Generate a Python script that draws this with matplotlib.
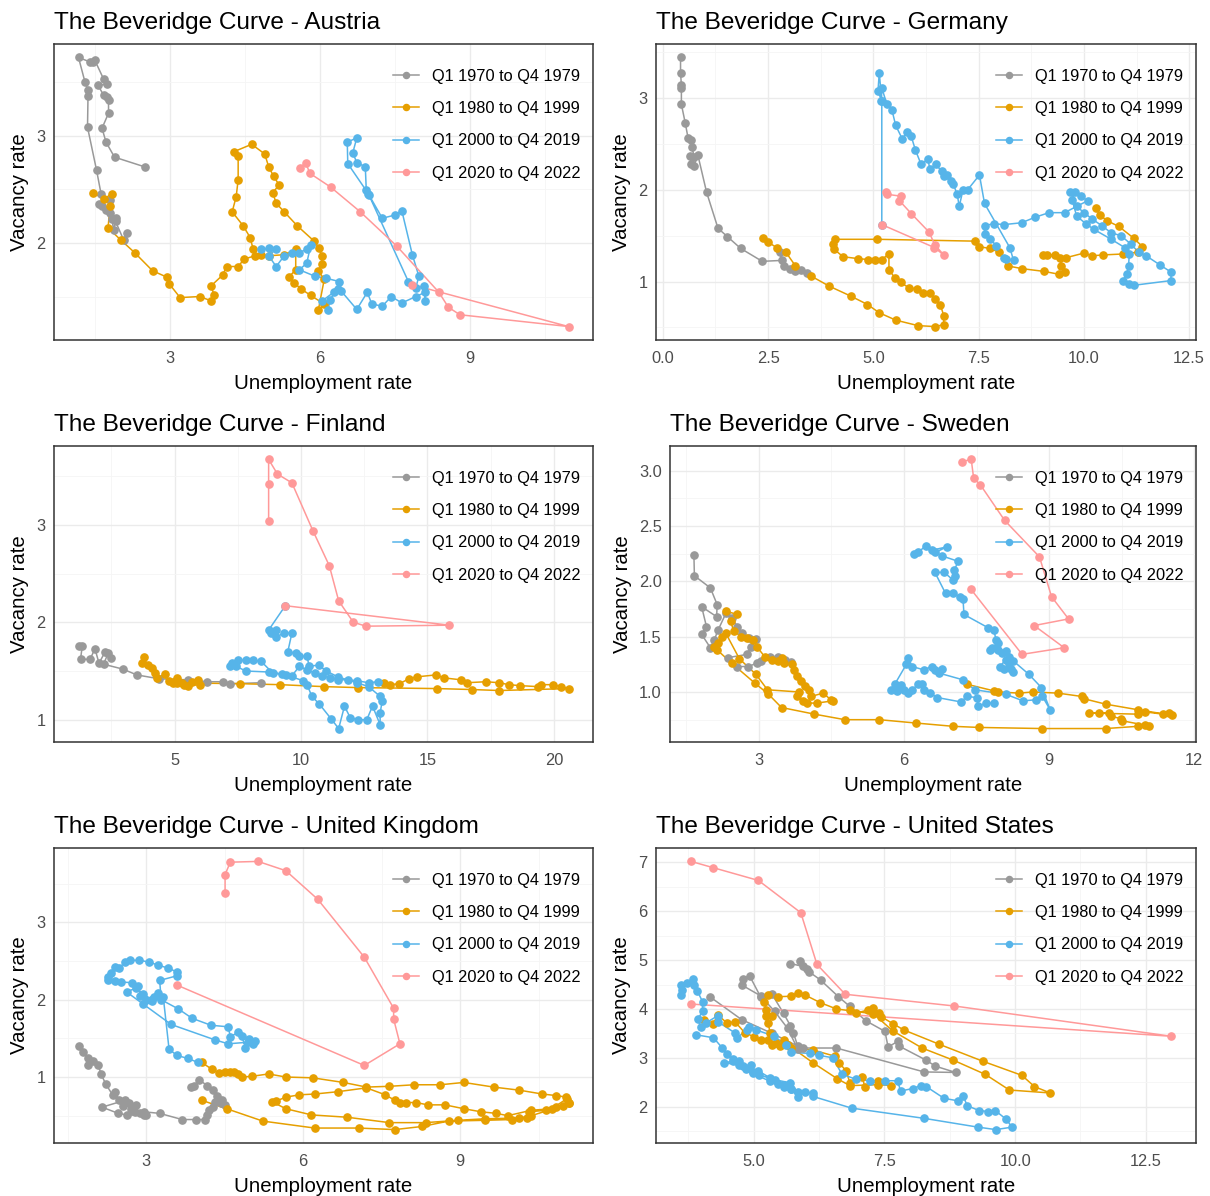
import matplotlib
matplotlib.use("Agg")
import matplotlib.pyplot as plt
from matplotlib.ticker import MultipleLocator, FormatStrFormatter

plt.rcParams.update({
    "font.family": ["Liberation Sans", "DejaVu Sans"],
    "figure.facecolor": "white",
    "axes.facecolor": "white",
})

# (unemployment rate, vacancy rate) per quarter
AT_7079 = [(2.15, 2.09), (2.08, 2.03), (1.92, 2.20), (1.88, 2.12), (1.85, 2.22), (1.81, 2.28), (1.92, 2.23),
           (1.73, 2.31), (1.65, 2.34), (1.58, 2.36), (1.81, 2.40), (1.63, 2.46), (1.54, 2.68), (1.36, 3.08),
           (1.37, 3.37), (1.37, 3.43), (1.31, 3.50), (1.18, 3.73), (1.40, 3.69), (1.46, 3.69), (1.50, 3.71),
           (1.68, 3.53), (1.74, 3.48), (1.57, 3.47), (1.68, 3.38), (1.74, 3.36), (1.78, 3.33), (1.78, 3.21),
           (1.65, 3.07), (1.73, 2.94), (1.90, 2.80), (2.50, 2.71)]
AT_8099 = [(1.46, 2.47), (1.69, 2.41), (1.85, 2.46), (1.81, 2.34), (1.77, 2.14), (2.02, 2.03), (2.30, 1.91),
           (2.66, 1.74), (2.95, 1.68), (2.99, 1.62), (3.21, 1.49), (3.60, 1.50), (3.83, 1.46), (3.89, 1.51),
           (3.83, 1.60), (4.06, 1.70), (4.14, 1.78), (4.37, 1.78), (4.49, 1.85), (4.71, 1.88), (4.67, 1.94),
           (4.61, 2.05), (4.47, 2.16), (4.25, 2.29), (4.33, 2.43), (4.37, 2.59), (4.37, 2.81), (4.28, 2.85),
           (4.64, 2.92), (4.90, 2.83), (4.98, 2.71), (5.08, 2.62), (5.19, 2.54), (5.06, 2.47), (5.13, 2.37),
           (5.29, 2.29), (5.55, 2.16), (5.88, 2.02), (5.99, 1.95), (6.04, 1.88), (6.04, 1.80), (5.97, 1.74),
           (6.09, 1.66), (5.97, 1.37), (6.09, 1.43), (5.82, 1.51), (5.63, 1.57), (5.48, 1.63), (5.38, 1.68),
           (5.52, 1.75), (5.52, 1.94), (5.29, 1.89), (4.98, 1.88), (4.83, 1.89)]
AT_0019 = [(4.83, 1.94), (4.98, 1.95), (5.12, 1.94), (4.98, 1.88), (5.13, 1.78), (5.29, 1.88), (5.44, 1.91),
           (5.59, 1.91), (5.74, 1.94), (5.82, 1.98), (5.74, 1.81), (5.59, 1.75), (5.90, 1.69), (6.13, 1.67),
           (6.39, 1.64), (6.36, 1.57), (6.20, 1.47), (6.17, 1.37), (6.05, 1.46), (6.28, 1.54), (6.43, 1.55),
           (6.74, 1.38), (6.95, 1.54), (7.04, 1.43), (7.25, 1.41), (7.43, 1.50), (7.64, 1.44), (7.92, 1.50),
           (8.11, 1.54), (8.11, 1.46), (8.08, 1.60), (7.92, 1.58), (7.98, 1.69), (7.85, 1.89), (7.64, 2.30),
           (7.50, 2.26), (7.25, 2.23), (6.98, 2.45), (6.93, 2.49), (6.91, 2.71), (6.74, 2.75), (6.66, 2.84),
           (6.74, 2.98), (6.55, 2.94), (6.56, 2.74), (6.97, 2.46), (7.77, 1.64)]
AT_2022 = [(7.85, 1.61), (10.97, 1.22), (8.80, 1.33), (8.57, 1.40), (8.38, 1.54), (7.54, 1.97), (6.81, 2.29),
           (6.22, 2.52), (5.80, 2.65), (5.72, 2.75), (5.61, 2.70)]

DE_7079 = [(0.42, 3.44), (0.42, 3.27), (0.44, 3.14), (0.44, 3.11), (0.44, 2.93), (0.53, 2.73), (0.60, 2.56),
           (0.67, 2.54), (0.69, 2.47), (0.74, 2.36), (0.65, 2.37), (0.67, 2.28), (0.74, 2.26), (0.83, 2.38),
           (1.04, 1.97), (1.31, 1.58), (1.53, 1.49), (1.85, 1.36), (2.36, 1.22), (2.82, 1.23), (2.78, 1.32),
           (2.87, 1.17), (3.01, 1.14), (3.15, 1.12), (3.29, 1.13), (3.43, 1.09)]
DE_8099 = [(2.39, 1.47), (2.50, 1.43), (2.70, 1.37), (2.92, 1.32), (3.15, 1.17), (3.52, 1.06), (3.95, 0.95),
           (4.47, 0.84), (4.86, 0.75), (5.14, 0.66), (5.53, 0.58), (6.06, 0.52), (6.46, 0.51), (6.67, 0.53),
           (6.67, 0.63), (6.59, 0.75), (6.46, 0.81), (6.34, 0.87), (6.19, 0.88), (6.04, 0.92), (5.85, 0.93),
           (5.65, 0.99), (5.51, 1.04), (5.37, 1.13), (5.37, 1.30), (5.20, 1.24), (5.03, 1.24), (4.87, 1.24),
           (4.63, 1.25), (4.28, 1.27), (4.07, 1.35), (4.03, 1.41), (4.10, 1.46), (5.09, 1.46), (7.41, 1.44),
           (7.50, 1.38), (7.78, 1.36), (7.98, 1.32), (8.19, 1.17), (8.54, 1.14), (9.06, 1.11), (9.40, 1.08),
           (9.56, 1.10), (9.46, 1.17), (9.44, 1.26), (9.31, 1.29), (9.12, 1.29), (9.03, 1.29), (9.58, 1.26),
           (10.00, 1.31), (10.19, 1.28), (10.46, 1.29), (10.93, 1.30), (11.28, 1.32), (11.39, 1.38),
           (11.19, 1.47), (10.83, 1.60), (10.56, 1.66), (10.39, 1.72), (10.28, 1.80)]
DE_0019 = [(9.68, 1.97), (9.83, 1.82), (10.00, 1.75), (10.20, 1.68), (10.42, 1.61), (10.65, 1.53), (10.88, 1.50),
           (11.11, 1.41), (11.30, 1.32), (11.48, 1.28), (11.81, 1.18), (12.08, 1.10), (12.06, 1.01), (11.20, 0.96),
           (11.06, 0.97), (10.93, 1.01), (11.02, 1.08), (11.06, 1.17), (11.08, 1.30), (10.97, 1.37), (10.65, 1.46),
           (10.23, 1.57), (10.05, 1.63), (9.83, 1.71), (9.72, 1.89), (9.80, 1.97), (9.93, 1.93), (10.09, 1.88),
           (9.54, 1.75), (9.17, 1.75), (8.84, 1.70), (8.52, 1.64), (8.10, 1.62), (7.87, 1.63), (7.64, 1.61),
           (7.64, 1.52), (7.78, 1.46), (7.92, 1.39), (8.10, 1.26), (8.15, 1.25), (8.33, 1.23), (8.24, 1.37),
           (7.64, 1.85), (7.52, 2.16), (7.24, 2.00), (7.13, 2.00), (7.04, 1.82), (6.99, 1.95), (6.90, 2.06),
           (6.85, 2.09), (6.76, 2.16), (6.67, 2.15), (6.62, 2.20), (6.48, 2.28), (6.34, 2.22), (6.30, 2.33),
           (6.13, 2.28), (6.00, 2.43), (5.90, 2.58), (5.79, 2.63), (5.69, 2.55), (5.53, 2.70), (5.44, 2.87),
           (5.32, 2.93), (5.20, 3.11), (5.19, 2.97), (5.11, 3.08), (5.14, 3.27), (5.20, 2.97), (5.20, 1.62)]
DE_2022 = [(5.20, 1.62), (6.45, 1.37), (6.67, 1.29), (6.46, 1.40), (6.32, 1.54), (5.90, 1.74), (5.62, 1.88),
           (5.65, 1.93), (5.32, 1.95), (5.31, 1.97)]

FI_7079 = [(1.20, 1.76), (1.35, 1.76), (1.28, 1.62), (1.66, 1.62), (1.85, 1.73), (2.01, 1.58), (2.26, 1.70),
           (2.49, 1.63), (2.37, 1.68), (2.19, 1.57), (2.95, 1.52), (3.51, 1.46), (4.39, 1.42), (5.53, 1.41),
           (6.29, 1.39), (6.90, 1.39), (7.20, 1.37), (8.42, 1.38)]
FI_8099 = [(3.71, 1.58), (3.78, 1.64), (3.94, 1.56), (4.09, 1.53), (4.24, 1.48), (4.32, 1.43), (4.62, 1.47),
           (4.77, 1.40), (5.08, 1.43), (5.30, 1.38), (5.53, 1.35), (5.99, 1.36), (5.91, 1.41), (5.68, 1.39),
           (5.38, 1.36), (5.08, 1.38), (4.92, 1.38), (7.58, 1.37), (9.18, 1.36), (10.90, 1.34), (12.25, 1.33),
           (15.38, 1.32), (16.78, 1.31), (17.84, 1.30), (20.58, 1.32), (20.27, 1.34), (19.97, 1.36),
           (19.51, 1.36), (19.36, 1.34), (18.68, 1.35), (18.22, 1.36), (17.84, 1.38), (17.31, 1.39),
           (16.55, 1.38), (16.32, 1.41), (15.64, 1.43), (15.33, 1.46), (14.57, 1.44), (14.27, 1.42),
           (13.89, 1.37), (13.51, 1.36), (13.28, 1.38)]
FI_0019 = [(13.05, 1.39), (12.67, 1.38), (12.22, 1.40), (11.84, 1.41), (11.46, 1.41), (11.16, 1.43), (10.85, 1.45),
           (10.55, 1.48), (10.24, 1.51), (9.94, 1.55), (9.64, 1.45), (9.26, 1.47), (8.88, 1.48), (8.42, 1.60),
           (8.12, 1.61), (7.81, 1.61), (7.51, 1.61), (7.28, 1.58), (7.20, 1.55), (7.43, 1.55), (7.81, 1.50),
           (8.72, 1.49), (9.41, 1.46), (10.09, 1.40), (10.24, 1.36), (10.43, 1.24), (10.73, 1.16), (11.19, 1.01),
           (11.49, 0.91), (11.72, 1.14), (11.95, 1.02), (12.25, 1.00), (12.60, 1.00), (12.83, 1.14), (13.13, 0.95),
           (13.13, 1.07), (13.21, 1.19), (13.13, 1.24), (12.67, 1.34), (12.22, 1.38), (11.46, 1.44), (11.00, 1.50),
           (10.70, 1.56), (10.32, 1.55), (10.24, 1.65), (9.94, 1.65), (9.79, 1.68), (9.48, 1.70), (9.64, 1.89),
           (9.33, 1.89), (9.03, 1.85), (8.80, 1.89), (9.03, 1.92), (8.72, 1.92), (9.38, 2.17)]
FI_2022 = [(9.38, 2.17), (15.87, 1.97), (12.57, 1.96), (12.07, 2.00), (11.49, 2.22), (11.12, 2.58), (10.47, 2.94),
           (9.64, 3.43), (9.07, 3.52), (8.72, 3.67), (8.72, 3.42), (8.72, 3.04)]

SE_7079 = [(1.66, 2.24), (1.67, 2.05), (2.00, 1.94), (2.14, 1.79), (2.13, 1.68), (1.82, 1.77), (1.92, 1.59),
           (1.82, 1.52), (2.00, 1.40), (2.08, 1.47), (2.16, 1.56), (2.32, 1.71), (2.44, 1.67), (2.56, 1.59),
           (2.65, 1.53), (2.80, 1.49), (2.94, 1.48), (2.84, 1.41), (2.76, 1.34), (2.36, 1.31), (2.56, 1.23),
           (2.78, 1.23), (2.96, 1.26), (3.04, 1.28), (3.24, 1.32), (3.40, 1.32), (3.54, 1.29), (3.67, 1.27)]
SE_8099 = [(2.32, 1.73), (2.56, 1.70), (2.42, 1.64), (2.48, 1.55), (2.64, 1.50), (2.76, 1.49), (2.88, 1.47),
           (2.96, 1.41), (3.12, 1.32), (3.28, 1.29), (3.40, 1.28), (3.48, 1.31), (3.52, 1.26), (3.68, 1.25),
           (3.72, 1.20), (3.80, 1.14), (3.88, 1.10), (3.96, 1.05), (4.04, 1.02), (4.08, 0.96), (4.33, 0.99),
           (4.49, 0.93), (4.53, 0.92), (4.20, 0.90), (4.00, 0.90), (3.92, 0.92), (3.80, 0.96), (3.84, 1.00),
           (3.18, 1.02), (2.94, 1.16), (2.60, 1.30), (2.32, 1.53), (2.24, 1.50), (2.16, 1.44), (2.08, 1.41),
           (2.14, 1.38), (2.44, 1.26), (2.92, 1.08), (3.20, 0.98), (3.47, 0.86), (4.15, 0.80), (4.78, 0.75),
           (5.49, 0.75), (6.24, 0.72), (7.02, 0.69), (7.55, 0.68), (8.85, 0.67), (10.17, 0.67), (10.83, 0.69),
           (11.07, 0.69), (10.99, 0.70), (10.51, 0.74), (10.49, 0.76), (10.27, 0.78), (10.23, 0.81),
           (10.03, 0.81), (9.83, 0.81), (10.83, 0.80), (10.99, 0.82), (11.35, 0.80), (11.47, 0.81),
           (11.54, 0.79), (10.83, 0.84), (10.17, 0.89), (9.71, 0.94), (9.67, 0.96), (9.18, 0.99), (8.66, 1.00),
           (8.38, 0.99), (7.94, 1.00), (7.86, 1.01), (7.30, 1.07)]
SE_0019 = [(7.86, 0.90), (7.70, 0.90), (7.54, 0.87), (7.50, 0.95), (7.30, 0.96), (7.18, 0.91), (6.69, 0.95),
           (6.53, 0.99), (6.41, 1.02), (6.37, 1.07), (6.29, 1.07), (6.17, 1.02), (6.09, 0.99), (6.01, 1.02),
           (5.93, 1.06), (5.85, 1.01), (5.73, 1.02), (5.81, 1.07), (6.05, 1.25), (6.09, 1.31), (6.17, 1.23),
           (6.41, 1.20), (6.57, 1.23), (6.65, 1.20), (6.78, 1.21), (6.73, 1.17), (7.22, 1.11), (7.46, 1.02),
           (8.10, 0.98), (8.46, 0.92), (8.73, 0.93), (8.86, 0.96), (9.02, 0.84), (8.84, 1.04), (8.58, 1.16),
           (8.26, 1.28), (8.18, 1.26), (8.25, 1.18), (8.22, 1.21), (8.06, 1.21), (7.98, 1.23), (8.10, 1.29),
           (8.18, 1.32), (8.10, 1.37), (8.02, 1.35), (7.94, 1.38), (7.78, 1.38), (7.82, 1.40), (7.94, 1.44),
           (7.90, 1.47), (7.86, 1.56), (7.74, 1.58), (7.24, 1.70), (7.22, 1.84), (7.15, 1.86), (7.02, 1.89),
           (6.86, 1.89), (6.64, 2.08), (6.83, 2.08), (7.02, 2.01), (7.06, 2.05), (7.04, 2.10), (7.12, 2.18),
           (6.78, 2.23), (6.65, 2.26), (6.88, 2.31), (6.57, 2.28), (6.45, 2.32), (6.29, 2.26), (6.21, 2.25)]
SE_2022 = [(7.38, 1.93), (8.44, 1.34), (9.31, 1.40), (8.69, 1.60), (9.40, 1.66), (9.05, 1.86), (8.80, 2.22),
           (8.08, 2.55), (7.58, 2.87), (7.44, 2.93), (7.39, 3.10), (7.19, 3.08)]

UK_7079 = [(1.71, 1.40), (1.79, 1.33), (1.89, 1.25), (1.89, 1.15), (1.98, 1.21), (2.09, 1.15), (2.14, 1.04),
           (2.23, 0.91), (2.36, 0.77), (2.41, 0.81), (2.49, 0.70), (2.56, 0.63), (2.67, 0.66), (2.74, 0.56),
           (2.80, 0.64), (2.71, 0.59), (2.60, 0.70), (2.16, 0.61), (2.47, 0.53), (2.63, 0.51), (2.78, 0.55),
           (2.89, 0.53), (2.96, 0.51), (3.00, 0.51), (2.96, 0.55), (3.26, 0.53), (3.69, 0.45), (3.95, 0.45),
           (4.13, 0.45), (4.17, 0.51), (4.21, 0.57), (4.28, 0.61), (4.32, 0.68), (4.43, 0.66), (4.50, 0.64),
           (4.46, 0.70), (4.35, 0.76), (4.28, 0.83), (4.17, 0.89), (4.02, 0.96), (3.91, 0.89), (3.86, 0.87)]
UK_8099 = [(4.06, 0.70), (4.54, 0.59), (5.23, 0.43), (6.22, 0.34), (7.06, 0.34), (7.75, 0.32), (8.27, 0.36),
           (8.78, 0.43), (9.47, 0.44), (9.99, 0.45), (10.28, 0.47), (10.32, 0.55), (10.64, 0.57), (10.83, 0.61),
           (11.07, 0.66), (11.04, 0.72), (10.75, 0.59), (10.36, 0.57), (9.91, 0.50), (9.69, 0.53), (9.40, 0.55),
           (9.07, 0.59), (8.71, 0.64), (8.38, 0.64), (8.16, 0.67), (7.97, 0.67), (7.86, 0.67), (7.75, 0.70),
           (7.57, 0.77), (7.21, 0.86), (6.66, 0.81), (6.22, 0.78), (5.93, 0.77), (5.67, 0.74), (5.49, 0.69),
           (5.41, 0.68), (5.67, 0.59), (6.16, 0.51), (6.84, 0.48), (7.65, 0.41), (8.34, 0.41), (8.96, 0.44),
           (9.47, 0.46), (10.13, 0.47), (10.36, 0.50), (10.97, 0.63), (11.07, 0.66), (11.03, 0.74),
           (10.84, 0.76), (10.57, 0.78), (10.13, 0.83), (9.64, 0.87), (9.07, 0.93), (8.62, 0.90), (8.12, 0.90),
           (7.65, 0.88), (7.21, 0.87), (6.77, 0.93), (6.18, 0.99), (5.67, 1.00), (5.34, 1.04), (5.03, 1.01),
           (4.84, 1.00), (4.76, 1.04), (4.68, 1.06), (4.61, 1.07), (4.50, 1.06), (4.40, 1.05), (4.26, 1.10),
           (4.06, 1.19)]
UK_0019 = [(3.99, 1.19), (3.80, 1.24), (3.59, 1.28), (3.44, 1.36), (3.33, 2.03), (3.22, 2.09), (3.15, 2.04),
           (3.11, 1.98), (2.94, 1.95), (3.00, 2.00), (2.89, 2.05), (2.85, 2.18), (2.74, 2.22), (2.52, 2.23),
           (2.41, 2.24), (2.27, 2.25), (2.28, 2.30), (2.34, 2.35), (2.41, 2.43), (2.49, 2.41), (2.60, 2.49),
           (2.69, 2.51), (2.87, 2.51), (3.05, 2.49), (3.22, 2.45), (3.42, 2.41), (3.59, 2.36), (3.59, 2.31),
           (3.26, 2.25), (3.29, 2.00), (3.62, 1.88), (3.88, 1.76), (4.24, 1.67), (4.57, 1.65), (4.61, 1.52),
           (4.76, 1.58), (4.83, 1.53), (4.90, 1.38), (4.97, 1.49), (5.05, 1.43), (5.08, 1.46), (4.94, 1.45),
           (4.57, 1.43), (4.32, 1.48), (3.48, 1.68), (2.63, 2.10), (2.80, 2.15), (2.95, 2.08), (3.10, 2.00)]
UK_2022 = [(3.59, 2.19), (7.17, 1.15), (7.85, 1.43), (7.73, 1.75), (7.73, 1.89), (7.17, 2.55), (6.28, 3.30),
           (5.67, 3.67), (5.14, 3.79), (4.61, 3.78), (4.51, 3.62), (4.51, 3.38)]

US_7079 = [(4.16, 4.25), (4.77, 3.78), (5.35, 3.50), (5.84, 3.24), (5.76, 3.51), (5.70, 3.66), (5.57, 3.91),
           (5.35, 4.30), (5.13, 4.25), (4.92, 4.68), (4.79, 4.61), (4.77, 4.49), (5.13, 4.27), (5.40, 3.95),
           (5.65, 3.60), (5.84, 3.18), (5.95, 3.20), (6.58, 3.20), (8.26, 2.71), (8.86, 2.70), (8.47, 2.83),
           (8.30, 2.95), (7.78, 3.24), (7.76, 3.34), (7.57, 3.22), (7.51, 3.54), (7.14, 3.76), (6.84, 4.05),
           (6.62, 4.25), (6.28, 4.59), (6.06, 4.76), (6.01, 4.82), (5.89, 4.99), (5.94, 4.87), (5.70, 4.93)]
US_8099 = [(6.84, 3.98), (6.96, 3.91), (7.18, 3.98), (7.29, 4.01), (7.40, 3.91), (7.44, 3.84), (7.66, 3.70),
           (7.87, 3.57), (8.54, 3.28), (9.38, 2.93), (10.13, 2.64), (10.37, 2.41), (10.67, 2.28), (9.89, 2.34),
           (9.43, 2.66), (8.82, 2.95), (8.22, 3.20), (7.66, 3.55), (7.29, 3.90), (6.58, 4.00), (6.27, 4.13),
           (5.99, 4.28), (5.84, 4.33), (5.71, 4.26), (5.46, 4.25), (5.28, 4.28), (5.20, 4.15), (5.24, 3.98),
           (5.35, 3.86), (5.24, 3.86), (5.28, 3.71), (5.31, 3.51), (5.35, 3.27), (5.50, 3.24), (5.72, 3.20),
           (6.13, 3.16), (6.56, 3.03), (6.63, 2.90), (6.77, 2.73), (6.84, 2.48), (7.08, 2.61), (7.12, 2.41),
           (7.38, 2.53), (7.63, 2.43), (7.38, 2.45), (6.84, 2.43), (6.60, 2.57), (6.13, 2.90), (5.65, 3.27),
           (5.57, 3.37), (5.43, 3.30), (5.28, 3.37), (5.13, 3.37), (5.01, 3.43), (4.83, 3.51), (4.64, 3.74),
           (4.49, 3.71), (4.31, 3.88), (4.23, 3.70), (4.04, 3.78)]
US_0019 = [(3.90, 3.47), (4.23, 3.41), (4.40, 3.20), (4.49, 3.07), (4.60, 2.97), (4.72, 2.93), (4.79, 2.83),
           (4.94, 2.86), (4.98, 2.70), (5.09, 2.73), (5.31, 2.59), (5.46, 2.46), (5.57, 2.44), (5.72, 2.36),
           (5.84, 2.19), (5.84, 2.29), (5.69, 2.49), (5.40, 2.55), (5.10, 2.65), (4.85, 2.78), (4.60, 2.93),
           (4.44, 2.90), (4.72, 2.85), (4.98, 2.68), (5.31, 2.52), (5.57, 2.40), (5.72, 2.36), (5.99, 2.29),
           (6.13, 2.28), (6.13, 2.21), (6.87, 1.97), (8.26, 1.76), (9.29, 1.58), (9.63, 1.53), (9.94, 1.58),
           (9.83, 1.74), (9.62, 1.92), (9.49, 1.90), (9.31, 1.92), (9.08, 2.02), (9.01, 2.22), (8.90, 2.12),
           (8.64, 2.17), (8.30, 2.41), (8.19, 2.43), (8.04, 2.37), (7.81, 2.32), (7.75, 2.53), (7.52, 2.53),
           (7.22, 2.53), (6.96, 2.56), (6.69, 2.66), (6.51, 3.00), (6.25, 3.05), (6.07, 3.09), (5.71, 3.11),
           (5.61, 3.27), (5.39, 3.44), (5.05, 3.57), (4.90, 3.64), (4.87, 3.57), (4.68, 3.41), (4.64, 3.51),
           (4.31, 3.74), (4.31, 3.86), (4.08, 3.71), (3.99, 3.64), (3.93, 3.79), (4.02, 3.95), (4.02, 4.15),
           (3.92, 4.37), (3.86, 4.49), (3.84, 4.61), (3.72, 4.53), (3.60, 4.49), (3.63, 4.39), (3.60, 4.28)]
US_2022 = [(3.80, 4.10), (12.99, 3.44), (8.84, 4.06), (6.75, 4.30), (6.21, 4.91), (5.90, 5.97), (5.09, 6.63),
           (4.23, 6.89), (3.80, 7.02)]

PERIODS = ["Q1 1970 to Q4 1979", "Q1 1980 to Q4 1999", "Q1 2000 to Q4 2019", "Q1 2020 to Q4 2022"]
COLORS = ["#999999", "#E69F00", "#56B4E9", "#FF9999"]

W, H = 1210, 1196
# country, series, panel box in pixels (left, right, top, bottom), x step, y step, x fmt, y fmt
panels = [
    ("Austria", [AT_7079, AT_8099, AT_0019, AT_2022], (54, 593, 44, 340), 3, 1, "%d", "%d"),
    ("Germany", [DE_7079, DE_8099, DE_0019, DE_2022], (656, 1196, 44, 340), 2.5, 1, "%.1f", "%d"),
    ("Finland", [FI_7079, FI_8099, FI_0019, FI_2022], (54, 593, 446, 742), 5, 1, "%d", "%d"),
    ("Sweden", [SE_7079, SE_8099, SE_0019, SE_2022], (670, 1196, 446, 742), 3, 0.5, "%d", "%.1f"),
    ("United Kingdom", [UK_7079, UK_8099, UK_0019, UK_2022], (54, 593, 848, 1143), 3, 1, "%d", "%d"),
    ("United States", [US_7079, US_8099, US_0019, US_2022], (656, 1196, 848, 1143), 2.5, 1, "%.1f", "%d"),
]

fig = plt.figure(figsize=(W / 100, H / 100), dpi=100)

for name, series, (l, r, t, b), xstep, ystep, xfmt, yfmt in panels:
    ax = fig.add_axes([l / W, 1 - b / H, (r - l) / W, (b - t) / H])
    ax.margins(0.05)

    for pts, col in zip(series, COLORS):
        u = [p[0] for p in pts]
        v = [p[1] for p in pts]
        ax.plot(u, v, color=col, linewidth=1.1, zorder=2)
    for pts, col, lab in zip(series, COLORS, PERIODS):
        u = [p[0] for p in pts]
        v = [p[1] for p in pts]
        ax.plot(u, v, color=col, marker="o", markersize=5.2, linestyle="none", zorder=3)
        ax.plot([], [], color=col, linewidth=1.1, marker="o", markersize=4.4, label=lab)

    ax.xaxis.set_major_locator(MultipleLocator(xstep))
    ax.xaxis.set_minor_locator(MultipleLocator(xstep / 2))
    ax.yaxis.set_major_locator(MultipleLocator(ystep))
    ax.yaxis.set_minor_locator(MultipleLocator(ystep / 2))
    ax.xaxis.set_major_formatter(FormatStrFormatter(xfmt))
    ax.yaxis.set_major_formatter(FormatStrFormatter(yfmt))

    ax.grid(True, which="major", color="#EBEBEB", linewidth=1.0, zorder=0)
    ax.grid(True, which="minor", color="#F5F5F5", linewidth=0.6, zorder=0)
    ax.set_axisbelow(True)
    ax.tick_params(which="both", length=0, labelsize=11.8, labelcolor="#4D4D4D")
    ax.tick_params(axis="x", pad=8)
    ax.tick_params(axis="y", pad=6)
    for s in ax.spines.values():
        s.set_color("#333333")
        s.set_linewidth(1.1)

    ax.set_xlabel("Unemployment rate", fontsize=14.7, color="black", labelpad=5.5)
    ax.set_ylabel("Vacancy rate", fontsize=14.7, color="black", labelpad=5)
    ax.set_title(f"The Beveridge Curve - {name}", loc="left", fontsize=17.6, pad=10.5)

    pw, ph = r - l, b - t
    ax.legend(loc="upper right", bbox_to_anchor=(1 - 12 / pw, 1 - 25 / ph), frameon=False,
              fontsize=11.8, borderpad=0, borderaxespad=0, labelspacing=1.05,
              handlelength=1.6, handletextpad=0.8)

fig.savefig("out.png", dpi=100)
